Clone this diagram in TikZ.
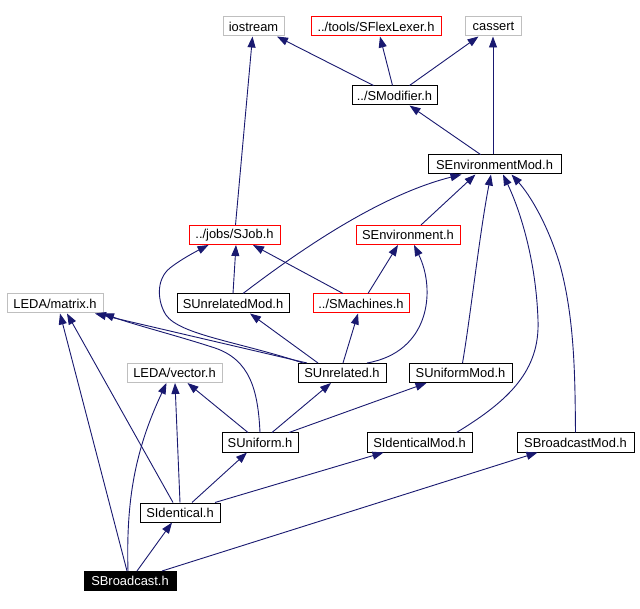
\documentclass[tikz,border=0pt]{standalone}
\usepackage{fontspec}
\setmainfont{Liberation Sans}
\usetikzlibrary{arrows.meta}
\definecolor{edgeblue}{HTML}{191970}
\definecolor{boxgray}{HTML}{BFBFBF}
\definecolor{boxred}{HTML}{FF0000}
\begin{document}
\begin{tikzpicture}[x=1pt,y=-1pt,
  hdr/.style={draw, rectangle, inner sep=0pt, minimum height=19pt, font=\fontsize{12.9}{14}\selectfont, line width=1pt},
  blackbox/.style={hdr, draw=black},
  redbox/.style={hdr, draw=boxred},
  graybox/.style={hdr, draw=boxgray},
  rootbox/.style={hdr, draw=black, fill=black, text=white},
  edge/.style={draw=edgeblue, line width=0.9pt, -{Triangle[length=11pt,width=8pt]}}]
\useasboundingbox[fill=white] (0,0) rectangle (640,609);

% nodes
\node[graybox, minimum width=61pt] (iostream) at (253.5,26.5) {iostream};
\node[redbox, minimum width=130pt] (flex) at (376,26.5) {../tools/SFlexLexer.h};
\node[graybox, minimum width=56pt] (cassert) at (493.5,26.5) {cassert};
\node[blackbox, minimum width=85pt] (smod) at (394.5,95.5) {../SModifier.h};
\node[blackbox, minimum width=133pt] (senvmod) at (494.5,164.5) {SEnvironmentMod.h};
\node[redbox, minimum width=91pt] (sjob) at (234.5,235) {../jobs/SJob.h};
\node[redbox, minimum width=104pt] (senv) at (408,235) {SEnvironment.h};
\node[graybox, minimum width=96pt] (matrix) at (55,303.5) {LEDA/matrix.h};
\node[blackbox, minimum width=112pt] (sunrelmod) at (233,303.5) {SUnrelatedMod.h};
\node[redbox, minimum width=96pt] (smach) at (361,303.5) {../SMachines.h};
\node[graybox, minimum width=95pt] (vector) at (174.5,373) {LEDA/vector.h};
\node[blackbox, minimum width=88pt] (sunrel) at (342,373) {SUnrelated.h};
\node[blackbox, minimum width=103pt] (sunimod) at (460.5,373) {SUniformMod.h};
\node[blackbox, minimum width=76pt] (suni) at (260,442.5) {SUniform.h};
\node[blackbox, minimum width=105pt] (sidmod) at (419.5,442.5) {SIdenticalMod.h};
\node[blackbox, minimum width=117pt] (sbcmod) at (575.5,442.5) {SBroadcastMod.h};
\node[blackbox, minimum width=80pt] (sident) at (180,512.5) {SIdentical.h};
\node[rootbox, minimum width=92pt] (sbc) at (130,581) {SBroadcast.h};

% edges
\draw[edge] ([xshift=-21pt]smod.north) -- ([xshift=23.5pt]iostream.south);
\draw[edge] ([xshift=-2pt]smod.north) -- ([xshift=4pt]flex.south);
\draw[edge] ([xshift=15pt]smod.north) -- ([xshift=-15pt]cassert.south);
\draw[edge] ([xshift=-14pt]senvmod.north) -- ([xshift=15pt]smod.south);
\draw[edge] ([xshift=-1.5pt]senvmod.north) -- ([xshift=-0.5pt]cassert.south);
\draw[edge] ([xshift=1pt]sjob.north) -- ([xshift=-1pt]iostream.south);
\draw[edge] ([xshift=13pt]senv.north) -- ([xshift=-19pt]senvmod.south);
\draw[edge] ([xshift=10pt]sunrelmod.north) .. controls (300,250) and (380,195) .. ([xshift=-33pt]senvmod.south);
\draw[edge] (sunrelmod.north) -- ([xshift=1.5pt]sjob.south);
\draw[edge] ([xshift=-18pt]smach.north) -- ([xshift=18.5pt]sjob.south);
\draw[edge] ([xshift=7pt]smach.north) -- ([xshift=-10pt]senv.south);
\draw[edge] ([xshift=-39pt]sunrel.north) .. controls (240,342) and (180,335) .. (166,315)
  .. controls (158,303) and (155,280) .. (170,268)
  .. controls (180,260) and (195,252) .. ([xshift=-26pt]sjob.south);
\draw[edge] ([xshift=-24pt]sunrel.north) -- ([xshift=17pt]sunrelmod.south);
\draw[edge] ([xshift=1pt]sunrel.north) -- ([xshift=-3pt]smach.south);
\draw[edge] ([xshift=25pt]sunrel.north) .. controls (430,352) and (436,290) .. ([xshift=6pt]senv.south);
\draw[edge] ([xshift=-35pt]sunrel.north) -- ([xshift=40pt]matrix.south);
\draw[edge] (suni.north) .. controls (258,390) and (250,360) .. (215,348)
  .. controls (175,335) and (135,325) .. ([xshift=48pt]matrix.south);
\draw[edge] ([xshift=2pt]sunimod.north) .. controls (470,320) and (480,230) .. ([xshift=-3.5pt]senvmod.south);
\draw[edge] ([xshift=37pt]sidmod.north) .. controls (510,400) and (540,370) .. (538,320)
  .. controls (536,260) and (520,210) .. ([xshift=8.5pt]senvmod.south);
\draw[edge] (sbcmod.north) .. controls (575,380) and (575,320) .. (560,265)
  .. controls (548,225) and (530,195) .. ([xshift=17pt]senvmod.south);
\draw[edge] ([xshift=-12pt]suni.north) -- ([xshift=13pt]vector.south);
\draw[edge] ([xshift=12pt]suni.north) -- ([xshift=-11pt]sunrel.south);
\draw[edge] ([xshift=29pt]suni.north) -- ([xshift=-34pt]sunimod.south);
\draw[edge] (sident.north) -- ([xshift=0.5pt]vector.south);
\draw[edge] ([xshift=-7pt]sident.north) -- ([xshift=12pt]matrix.south);
\draw[edge] ([xshift=12pt]sident.north) -- ([xshift=-13pt]suni.south);
\draw[edge] ([xshift=35pt]sident.north) -- ([xshift=-36pt]sidmod.south);
\draw[edge] ([xshift=7pt]sbc.north) -- ([xshift=-8pt]sident.south);
\draw[edge] ([xshift=-3pt]sbc.north) -- ([xshift=5pt]matrix.south);
\draw[edge] ([xshift=-2pt]sbc.north) .. controls (126,500) and (135,450) .. ([xshift=-8pt]vector.south);
\draw[edge] ([xshift=32pt]sbc.north) -- ([xshift=-38pt]sbcmod.south);
\end{tikzpicture}
\end{document}
